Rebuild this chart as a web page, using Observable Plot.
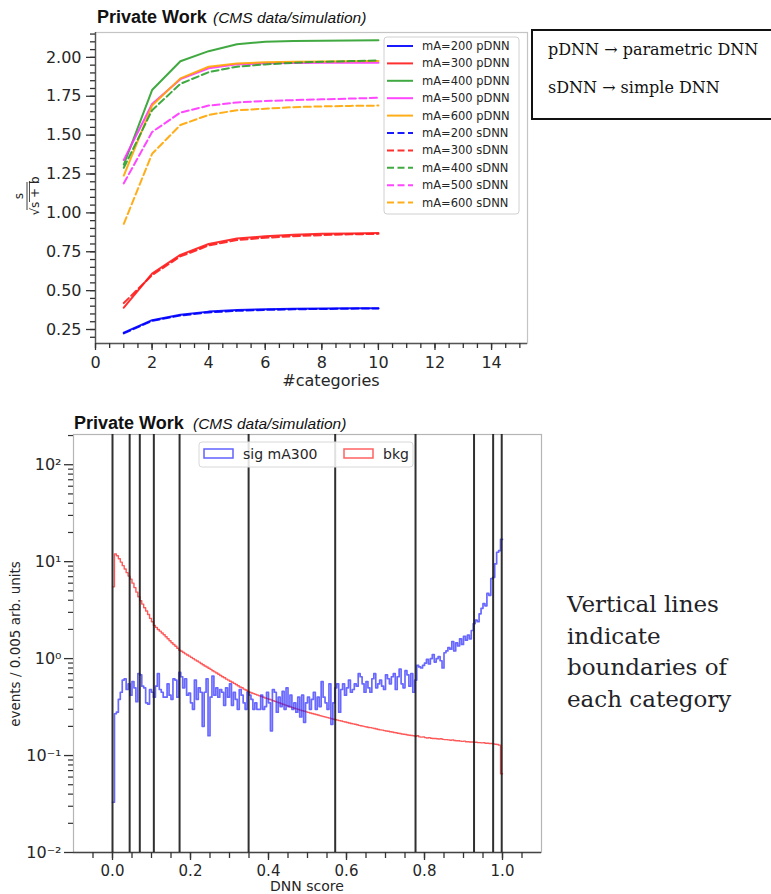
<!DOCTYPE html>
<html><head><meta charset="utf-8">
<script src="https://cdn.jsdelivr.net/npm/d3@7"></script>
<script src="https://cdn.jsdelivr.net/npm/@observablehq/plot@0.6"></script>
<style>
html,body{margin:0;padding:0;background:#fff;overflow:hidden;}
#page{position:relative;width:771px;height:894px;overflow:hidden;}
#page > svg{position:absolute;}
</style></head><body><div id="page"></div>
<script>
// ---------- top chart data ----------
const categories = [1,2,3,4,5,6,7,8,9,10];
const masses = [200,300,400,500,600];
const massColors = ["#0000ff","#ff1a1a","#2ca02c","#ff33ff","#ffa500"];
const pDNN_200 = [0.23,0.31,0.345,0.365,0.375,0.38,0.383,0.385,0.386,0.387];
const sDNN_200 = [0.225,0.305,0.34,0.36,0.37,0.376,0.38,0.382,0.384,0.385];
const pDNN_300 = [0.39,0.61,0.73,0.80,0.835,0.85,0.86,0.865,0.868,0.87];
const sDNN_300 = [0.42,0.60,0.72,0.79,0.825,0.84,0.85,0.857,0.862,0.865];
const pDNN_400 = [1.31,1.79,1.975,2.04,2.085,2.10,2.105,2.107,2.109,2.11];
const sDNN_400 = [1.29,1.66,1.83,1.905,1.94,1.955,1.965,1.972,1.976,1.98];
const pDNN_500 = [1.34,1.70,1.86,1.93,1.955,1.962,1.964,1.965,1.965,1.965];
const sDNN_500 = [1.19,1.52,1.645,1.69,1.71,1.72,1.725,1.73,1.735,1.74];
const pDNN_600 = [1.24,1.69,1.865,1.94,1.96,1.968,1.972,1.974,1.975,1.976];
const sDNN_600 = [0.93,1.38,1.565,1.63,1.66,1.67,1.68,1.685,1.688,1.69];
const topXTicks = [0,2,4,6,8,10,12,14];
const topYTicks = [0.25,0.5,0.75,1.0,1.25,1.5,1.75,2.0];

// ---------- bottom chart data ----------
const binWidth = 0.005;
const sigCounts = [
 0.033,0.27,0.28,0.38,0.45,0.6,0.62,0.48,0.55,0.42,
 0.58,0.5,0.36,0.7,0.68,0.52,0.5,0.35,0.34,0.48,
 0.45,0.4,0.52,0.7,0.48,0.45,0.4,0.4,0.55,0.42,
 0.38,0.62,0.6,0.4,0.72,0.65,0.5,0.62,0.42,0.44,
 0.35,0.3,0.6,0.38,0.5,0.45,0.2,0.45,0.62,0.16,
 0.4,0.66,0.42,0.5,0.4,0.48,0.45,0.33,0.5,0.4,
 0.55,0.33,0.45,0.38,0.3,0.48,0.42,0.35,0.3,0.45,
 0.42,0.38,0.3,0.35,0.3,0.3,0.42,0.3,0.32,0.45,
 0.35,0.18,0.48,0.45,0.28,0.4,0.32,0.46,0.3,0.5,
 0.32,0.42,0.3,0.35,0.28,0.4,0.25,0.42,0.22,0.35,
 0.4,0.3,0.38,0.45,0.3,0.4,0.32,0.58,0.4,0.35,
 0.3,0.55,0.21,0.35,0.5,0.55,0.28,0.48,0.55,0.42,
 0.5,0.6,0.45,0.48,0.55,0.52,0.7,0.65,0.55,0.45,
 0.58,0.5,0.45,0.62,0.7,0.5,0.55,0.6,0.52,0.48,
 0.68,0.62,0.55,0.65,0.7,0.48,0.65,0.78,0.55,0.5,
 0.75,0.68,0.52,0.7,0.45,0.6,0.85,0.82,0.8,0.85,
 0.9,0.98,0.88,1.0,1.1,0.92,1.0,1.05,0.95,0.8,
 1.15,1.2,1.3,1.25,1.5,1.2,1.45,1.35,1.6,1.4,
 1.7,1.55,1.75,1.6,1.95,2.3,2.5,2.4,2.9,3.3,
 3.7,3.5,4.7,4.5,6.7,6.9,9.5,12.5,13.0,17.0];
const bkgCounts = [
 5.5,12.0,11.5,10.7,9.9,9.1,8.4,7.7,7.1,6.6,
 6.0,5.4,4.85,4.35,3.95,3.65,3.35,3.1,2.85,2.6,
 2.4,2.2,2.1,2.0,1.92,1.84,1.76,1.68,1.6,1.53,
 1.46,1.4,1.34,1.28,1.22,1.19,1.155,1.12,1.09,1.06,
 1.03,1.0,0.97,0.945,0.92,0.89,0.865,0.84,0.82,0.795,
 0.775,0.75,0.73,0.71,0.69,0.67,0.65,0.635,0.615,0.6,
 0.585,0.57,0.555,0.54,0.525,0.51,0.5,0.485,0.475,0.46,
 0.45,0.442,0.435,0.428,0.42,0.413,0.406,0.4,0.393,0.387,
 0.381,0.375,0.368,0.362,0.356,0.35,0.344,0.338,0.333,0.327,
 0.322,0.317,0.312,0.308,0.303,0.299,0.294,0.29,0.286,0.282,
 0.279,0.275,0.272,0.268,0.265,0.262,0.258,0.255,0.252,0.249,
 0.246,0.243,0.24,0.237,0.234,0.232,0.229,0.227,0.224,0.222,
 0.219,0.217,0.214,0.212,0.21,0.208,0.205,0.203,0.201,0.199,
 0.197,0.195,0.194,0.192,0.19,0.188,0.186,0.184,0.183,0.181,
 0.179,0.178,0.176,0.175,0.173,0.172,0.17,0.169,0.167,0.166,
 0.165,0.163,0.162,0.161,0.16,0.158,0.16,0.156,0.155,0.156,
 0.153,0.152,0.153,0.151,0.15,0.15,0.149,0.148,0.149,0.147,
 0.146,0.146,0.145,0.144,0.145,0.143,0.142,0.142,0.141,0.14,
 0.141,0.139,0.139,0.138,0.138,0.137,0.137,0.136,0.136,0.135,
 0.136,0.134,0.134,0.133,0.133,0.132,0.131,0.13,0.128,0.065];
const categoryBoundaries = [0.0,0.044,0.07,0.106,0.172,0.349,0.571,0.777,0.927,0.976,0.998];
const bottomXTicks = [0,0.2,0.4,0.6,0.8,1.0];
const bottomYTicks = [0.01,0.1,1,10,100];

// ---------- build tables ----------
const pSeries = [pDNN_200,pDNN_300,pDNN_400,pDNN_500,pDNN_600];
const sSeries = [sDNN_200,sDNN_300,sDNN_400,sDNN_500,sDNN_600];
const pRows = [], sRows = [];
masses.forEach((m,k) => categories.forEach((c,i) => {
  pRows.push({cat:c, val:pSeries[k][i], mass:m});
  sRows.push({cat:c, val:sSeries[k][i], mass:m});
}));
const toSteps = arr => arr.map((v,i)=>({x:i*binWidth, y:v})).concat([{x:arr.length*binWidth, y:arr[arr.length-1]}]);
const sigRows = toSteps(sigCounts), bkgRows = toSteps(bkgCounts);

const page = document.getElementById("page");
const dark = "#333";

// ---------- top plot ----------
const topXDomain = [0, 15.27], topYDomain = [0.16, 2.16];
const topPlot = Plot.plot({
  width: 540, height: 390, marginLeft: 95, marginRight: 13, marginTop: 32, marginBottom: 47,
  x: {domain: topXDomain}, y: {domain: topYDomain},
  color: {domain: masses, range: massColors},
  style: {fontFamily: "DejaVu Sans", fontSize: "16px", color: "#262626", background: "transparent", overflow: "visible"},
  marks: [
    Plot.frame({stroke: "#c4c4c4", strokeWidth: 1.2}),
    Plot.ruleX([topXDomain[0]], {stroke: "#555", strokeWidth: 1.4}),
    Plot.ruleY([topYDomain[0]], {stroke: "#555", strokeWidth: 1.4}),
    Plot.line(pRows, {x:"cat", y:"val", z:"mass", stroke:"mass", strokeWidth: 2, strokeOpacity: 0.9}),
    Plot.line(sRows, {x:"cat", y:"val", z:"mass", stroke:"mass", strokeWidth: 2, strokeOpacity: 0.9, strokeDasharray: "7,3.5"}),
    Plot.axisX({ticks: d3.range(0, 15.01, 0.5), tickSize: 5, tickFormat: () => "", label: null, stroke: dark, strokeWidth: 1.3}),
    Plot.axisX({ticks: topXTicks, tickSize: 7, tickPadding: 6, tickFormat: d => String(d), label: null, stroke: dark, strokeWidth: 1.3, fontSize: 16}),
    Plot.axisY({ticks: d3.range(0.2, 2.151, 0.05), tickSize: 5, tickFormat: () => "", label: null, stroke: dark, strokeWidth: 1.3}),
    Plot.axisY({ticks: topYTicks, tickSize: 9, tickPadding: 5, tickFormat: d3.format(".2f"), label: null, stroke: dark, strokeWidth: 1.3, fontSize: 16})
  ]
});
topPlot.style.left = "0px"; topPlot.style.top = "0px";
page.appendChild(topPlot);

// ---------- bottom plot ----------
const supMap = {"-":"⁻","0":"⁰","1":"¹","2":"²","3":"³","4":"⁴","5":"⁵","6":"⁶","7":"⁷","8":"⁸","9":"⁹"};
const powFmt = d => "10" + String(Math.round(Math.log10(d))).split("").map(c => supMap[c]).join("");
const minorLog = [];
bottomYTicks.forEach(dec => [2,3,4,5,6,7,8,9].forEach(k => { if (dec*k < 205) minorLog.push(dec*k); }));
const botXDomain = [-0.1, 1.1], botYDomain = [0.01, 205];
const botPlot = Plot.plot({
  width: 560, height: 494, marginLeft: 73, marginRight: 19, marginTop: 34, marginBottom: 42,
  x: {domain: botXDomain}, y: {type: "log", domain: botYDomain},
  style: {fontFamily: "DejaVu Sans", fontSize: "15px", color: "#262626", background: "transparent", overflow: "visible"},
  marks: [
    Plot.frame({stroke: "#b5b5b5", strokeWidth: 1.2}),
    Plot.ruleY([botYDomain[0]], {stroke: "#444", strokeWidth: 1.4}),
    Plot.line(bkgRows, {x:"x", y:"y", curve:"step-after", stroke:"#ff2020", strokeOpacity: 0.75, strokeWidth: 1.4, clip: true}),
    Plot.line(sigRows, {x:"x", y:"y", curve:"step-after", stroke:"#2020ff", strokeOpacity: 0.68, strokeWidth: 1.7, clip: true}),
    Plot.ruleX(categoryBoundaries, {stroke: "#1a1a1a", strokeOpacity: 0.9, strokeWidth: 2}),
    Plot.axisX({ticks: d3.range(-0.05, 1.06, 0.05), tickSize: 6, tickFormat: () => "", label: null, stroke: dark, strokeWidth: 1.3}),
    Plot.axisX({ticks: bottomXTicks, tickSize: 8, tickPadding: 5, tickFormat: d3.format(".1f"), label: null, stroke: dark, strokeWidth: 1.3, fontSize: 15}),
    Plot.axisY({ticks: minorLog, tickSize: 5, tickFormat: () => "", label: null, stroke: dark, strokeWidth: 1.2}),
    Plot.axisY({ticks: bottomYTicks, tickSize: 9, tickPadding: 3, tickFormat: powFmt, label: null, stroke: dark, strokeWidth: 1.3, fontSize: 16})
  ]
});
botPlot.style.left = "0px"; botPlot.style.top = "400px";
page.appendChild(botPlot);

// ---------- overlay texts, legends, boxes ----------
const ov = d3.create("svg").attr("width", 771).attr("height", 894).style("left","0px").style("top","0px");
const sans = "Liberation Sans, Arial, sans-serif";
function title(x, y, xi) {
  ov.append("text").attr("x", x).attr("y", y).attr("font-family", sans).attr("font-weight","bold").attr("font-size", 18).attr("fill","#111").text("Private Work");
  ov.append("text").attr("x", xi).attr("y", y).attr("font-family", sans).attr("font-style","italic").attr("font-size", 15.5).attr("fill","#111").text("(CMS data/simulation)");
}
title(97, 23, 213);
title(74, 429, 193);

ov.append("text").attr("x", 331).attr("y", 386).attr("text-anchor","middle").attr("font-family","DejaVu Sans").attr("font-size",16).attr("fill","#262626").text("#categories");
ov.append("text").attr("x", 307).attr("y", 891).attr("text-anchor","middle").attr("font-family","DejaVu Sans").attr("font-size",14).attr("fill","#262626").text("DNN score");
ov.append("text").attr("transform","translate(20,644) rotate(-90)").attr("text-anchor","middle").attr("font-family","DejaVu Sans").attr("font-size",13.5).attr("fill","#262626").text("events / 0.005 arb. units");

// fraction y label  s / sqrt(s+b)
const fr = ov.append("g").attr("transform","translate(27,196) rotate(-90)").attr("font-family","DejaVu Sans").attr("font-size",12).attr("fill","#262626");
fr.append("text").attr("x",0).attr("y",-4).attr("text-anchor","middle").text("s");
fr.append("line").attr("x1",-14).attr("x2",14).attr("y1",0).attr("y2",0).attr("stroke","#262626").attr("stroke-width",0.9);
fr.append("text").attr("x",0).attr("y",12).attr("text-anchor","middle").text("√s + b");
fr.append("line").attr("x1",-6).attr("x2",15).attr("y1",2.5).attr("y2",2.5).attr("stroke","#262626").attr("stroke-width",0.8);

// top legend
ov.append("rect").attr("x",384).attr("y",37).attr("width",135).attr("height",177).attr("rx",3).attr("fill","#fff").attr("fill-opacity",0.85).attr("stroke","#d0d0d0").attr("stroke-width",1);
const legRows = [];
["pDNN","sDNN"].forEach(net => masses.forEach((m,k) => legRows.push({net, m, color: massColors[k]})));
legRows.forEach((r,i) => {
  const y = 46 + i*17.4;
  ov.append("line").attr("x1",387).attr("x2",413).attr("y1",y).attr("y2",y).attr("stroke",r.color).attr("stroke-opacity",0.9).attr("stroke-width",2)
    .attr("stroke-dasharray", r.net === "sDNN" ? "7,3.5" : null);
  ov.append("text").attr("x",422).attr("y",y+4).attr("font-family","DejaVu Sans").attr("font-size",11.5).attr("fill","#262626").text(`mA=${r.m} ${r.net}`);
});

// right explanation box
ov.append("rect").attr("x",532).attr("y",30).attr("width",260).attr("height",89).attr("fill","none").attr("stroke","#111").attr("stroke-width",2);
ov.append("text").attr("x",548).attr("y",55).attr("font-family","DejaVu Serif").attr("font-size",16).attr("fill","#111").text("pDNN → parametric DNN");
ov.append("text").attr("x",548).attr("y",93).attr("font-family","DejaVu Serif").attr("font-size",16).attr("fill","#111").text("sDNN → simple DNN");

// bottom legend
ov.append("rect").attr("x",199).attr("y",442).attr("width",214).attr("height",25).attr("rx",3).attr("fill","#fff").attr("fill-opacity",0.85).attr("stroke","#d8d8d8").attr("stroke-width",1);
[{label:"sig mA300", c:"#2020ff", x:204},{label:"bkg", c:"#ff2020", x:344}].forEach(e => {
  ov.append("rect").attr("x",e.x).attr("y",449).attr("width",29).attr("height",9).attr("fill","none").attr("stroke",e.c).attr("stroke-opacity",0.7).attr("stroke-width",1.5);
  ov.append("text").attr("x",e.x+39).attr("y",459).attr("font-family","DejaVu Sans").attr("font-size",14).attr("fill","#262626").text(e.label);
});

// side note
["Vertical lines","indicate","boundaries of","each category"].forEach((t,i) => {
  ov.append("text").attr("x",567).attr("y",612 + i*31.7).attr("font-family","DejaVu Serif").attr("font-size",23).attr("fill","#1f2328").text(t);
});

page.appendChild(ov.node());
</script></body></html>
